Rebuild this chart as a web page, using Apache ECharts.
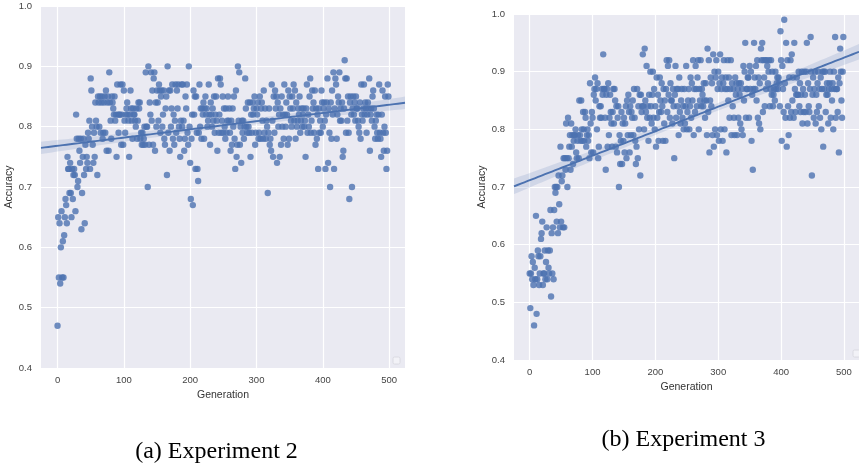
<!DOCTYPE html>
<html>
<head>
<meta charset="utf-8">
<script src="https://cdn.jsdelivr.net/npm/echarts@6/dist/echarts.min.js"></script>
<style>
  html, body { margin: 0; background: #fff; }
  #chart { width: 859px; height: 468px; }
</style>
</head>
<body>
<div id="chart"></div>
<script>
// accuracy (in %) per generation, index = generation
const exp2Acc = [
  47,65,55,64,54,60,66,55,61,55,62,65,68,67,64,75,73,73,69,74,
  69,65,73,68,72,73,72,66,82,78,70,71,78,76,74,78,63,69,75,78,
  72,64,77,73,75,74,79,78,81,73,88,86,80,77,74,79,75,84,81,80,
  72,85,84,80,85,79,84,85,78,79,84,85,79,86,76,84,85,76,89,84,
  81,78,85,84,83,82,85,81,82,75,87,82,79,82,82,87,77,82,87,77,
  86,81,79,82,83,84,82,81,75,82,86,83,81,78,83,82,82,81,80,83,
  78,81,84,83,84,78,79,77,79,77,78,80,77,89,80,80,70,90,77,84,
  82,89,81,86,77,88,89,76,84,80,86,84,81,87,86,79,85,86,80,82,
  86,78,77,83,85,72,90,79,86,76,86,80,83,87,78,82,77,81,87,79,
  86,83,87,80,78,75,81,87,80,87,81,76,78,85,83,87,79,77,90,80,
  74,68,78,82,67,86,82,85,73,85,79,73,71,79,87,80,83,78,83,82,
  84,78,83,85,82,83,80,81,87,82,77,84,82,80,83,81,85,79,82,85,
  81,76,88,79,82,88,87,79,81,85,79,83,80,78,83,79,81,85,81,83,
  79,76,81,77,83,80,85,78,73,86,75,77,90,81,89,77,80,74,81,79,
  81,78,80,88,83,80,79,84,80,79,84,75,82,79,84,82,83,85,77,79,
  83,82,84,78,79,85,78,83,84,81,78,86,79,83,78,81,80,69,79,83,
  77,78,76,87,81,75,85,79,86,83,85,74,84,80,82,75,83,77,85,80,
  82,78,87,82,80,84,82,77,86,78,85,83,81,80,85,83,87,81,86,78,
  84,80,81,83,82,85,79,81,83,80,82,83,80,81,75,83,87,79,82,80,
  85,88,79,81,86,83,84,79,86,77,83,78,82,73,83,79,81,79,86,84,
  80,83,84,81,73,82,84,88,74,83,79,70,84,78,86,82,89,73,83,88,
  87,78,82,85,84,89,81,83,81,84,75,76,83,91,88,79,88,81,85,79,
  68,84,85,82,70,83,85,82,84,81,85,83,83,81,80,79,84,78,87,82,
  81,83,87,82,84,83,79,82,84,83,88,76,82,83,81,85,86,83,80,78,
  81,82,79,78,82,87,79,78,75,82,86,79,76,80,85,79,73,76,87,85
];
const exp3Acc = [
  55,49,55,58,54,57,53,46,56,54,65,48,54,59,58,53,55,58,61,62,
  64,53,55,55,59,54,57,63,54,59,56,55,59,66,51,62,55,63,54,66,
  70,69,70,64,70,62,72,67,63,77,64,71,72,63,75,63,75,73,81,75,
  70,82,75,77,79,73,81,77,79,74,78,79,79,80,76,75,78,79,75,85,
  79,78,85,80,78,83,80,78,83,82,77,79,80,78,79,75,88,81,76,83,
  82,76,86,87,89,85,87,80,88,75,77,84,82,84,82,87,86,93,87,87,
  82,73,86,87,77,88,79,82,86,83,81,77,83,87,81,87,85,77,84,76,
  82,84,70,79,74,78,83,74,81,78,82,76,81,84,75,85,79,86,83,76,
  84,79,83,82,85,79,87,82,78,74,77,87,75,84,80,86,72,86,83,84,
  93,84,80,94,85,83,91,82,84,78,86,82,90,84,81,86,90,82,87,80,
  84,77,89,82,86,78,83,89,85,83,88,84,78,87,81,85,78,87,92,83,
  91,86,92,82,88,85,85,81,87,84,75,86,91,82,87,84,87,79,89,83,
  81,85,87,82,84,80,87,81,84,91,80,83,85,87,80,84,89,82,88,85,
  92,79,87,83,91,87,84,89,92,80,87,85,92,84,87,86,84,88,85,82,
  88,85,79,94,83,92,76,85,89,84,88,79,93,77,90,80,89,92,79,87,
  90,78,88,93,80,87,89,78,88,92,80,87,89,76,87,92,85,89,82,87,
  92,79,88,84,87,82,79,89,86,88,79,87,82,88,86,81,88,80,87,79,
  91,85,90,95,82,87,87,89,89,82,91,87,90,78,86,73,87,95,89,87,
  91,85,92,82,89,81,88,80,94,92,95,83,92,89,84,92,87,92,91,88,
  90,92,84,87,92,86,90,84,86,87,85,90,87,88,89,87,89,88,84,97,
  92,78,91,87,83,99,88,82,95,77,92,84,79,89,82,92,83,93,85,89,
  82,95,87,83,86,89,86,86,90,84,88,83,86,90,81,87,83,90,86,83,
  90,95,81,88,84,83,87,96,90,72,86,89,82,87,90,81,86,83,88,90,
  84,87,82,89,80,87,90,77,90,87,90,83,86,88,86,81,87,88,90,82,
  87,85,88,80,90,87,96,82,87,87,83,89,76,88,94,90,85,82,90,96
];
const xTicks = [0, 100, 200, 300, 400, 500];
const captions = ['(a) Experiment 2', '(b) Experiment 3'];

const BLUE = '#4C72B0';
const FONT = 'Liberation Sans';
const X_MIN = -24.95, X_MAX = 523.95;

function toPoints(acc) {
  return acc.map((v, i) => [i, v / 100]);
}

// least squares line + 95% confidence band, like seaborn regplot
function regression(points) {
  const n = points.length;
  let sx = 0, sy = 0;
  points.forEach(([x, y]) => { sx += x; sy += y; });
  const mx = sx / n, my = sy / n;
  let sxx = 0, sxy = 0;
  points.forEach(([x, y]) => { sxx += (x - mx) ** 2; sxy += (x - mx) * (y - my); });
  const b = sxy / sxx, a = my - b * mx;
  let sse = 0;
  points.forEach(([x, y]) => { sse += (y - a - b * x) ** 2; });
  const s = Math.sqrt(sse / (n - 2));
  const line = [], upper = [], lower = [];
  for (let k = 0; k <= 100; k++) {
    const x = X_MIN + (X_MAX - X_MIN) * k / 100;
    const y = a + b * x;
    const ci = 1.96 * s * Math.sqrt(1 / n + (x - mx) ** 2 / sxx);
    line.push([x, y]);
    upper.push([x, y + ci]);
    lower.push([x, y - ci]);
  }
  return { line, upper, lower };
}

const panels = [toPoints(exp2Acc), toPoints(exp3Acc)];
const fits = panels.map(regression);

const grids = [
  { left: 41, top: 6, width: 364, height: 362 },
  { left: 514, top: 14, width: 350, height: 346 }
];

const option = {
  animation: false,
  grid: grids.map(g => Object.assign({
    show: true, backgroundColor: '#EAEAF2', borderWidth: 0, containLabel: false
  }, g)),
  xAxis: grids.map((g, i) => ({
    type: 'value', gridIndex: i, min: X_MIN, max: X_MAX,
    name: 'Generation', nameLocation: 'middle', nameGap: i ? 13 : 14,
    nameTextStyle: { fontFamily: FONT, fontSize: 10.5, color: '#333' },
    axisLine: { show: false },
    axisTick: { show: false, customValues: xTicks },
    axisLabel: { customValues: xTicks, margin: 7, fontFamily: FONT, fontSize: 9.5, color: '#444' },
    splitLine: { show: true, lineStyle: { color: '#fff', width: 1.2 } }
  })),
  yAxis: grids.map((g, i) => ({
    type: 'value', gridIndex: i, min: 0.4, max: 1.0, interval: 0.1,
    name: 'Accuracy', nameLocation: 'middle', nameGap: i ? 16 : 20,
    nameTextStyle: { fontFamily: FONT, fontSize: 10.5, color: '#333' },
    axisLine: { show: false },
    axisTick: { show: false },
    axisLabel: { margin: 9, fontFamily: FONT, fontSize: 9.5, color: '#444',
      formatter: v => v.toFixed(1) },
    splitLine: { show: true, lineStyle: { color: '#fff', width: 1.2 } }
  })),
  series: [],
  graphic: []
};

panels.forEach((pts, i) => {
  const f = fits[i];
  option.series.push({
    type: 'scatter', xAxisIndex: i, yAxisIndex: i, data: pts,
    symbolSize: 6.4,
    itemStyle: { color: BLUE, opacity: 0.8 }
  });
  option.series.push({
    type: 'custom', xAxisIndex: i, yAxisIndex: i, data: [[0, 0.8]],
    silent: true, z: 3,
    renderItem: (params, api) => {
      const ptsUp = f.upper.map(p => api.coord(p));
      const ptsLo = f.lower.slice().reverse().map(p => api.coord(p));
      return {
        type: 'polygon',
        shape: { points: ptsUp.concat(ptsLo) },
        style: { fill: 'rgba(76,114,176,0.16)' }
      };
    }
  });
  option.series.push({
    type: 'line', xAxisIndex: i, yAxisIndex: i, data: f.line,
    showSymbol: false, z: 4,
    lineStyle: { color: BLUE, width: 1.9 }
  });
});

// empty legend boxes in the bottom right corners
[[393, 357], [853, 350]].forEach(([x, y]) => {
  option.graphic.push({
    type: 'rect', shape: { x, y, width: 7, height: 7, r: 1.5 },
    style: { fill: '#F2F2F7', stroke: '#D5D5DD', lineWidth: 0.8 }
  });
});

[[216.5, 452], [683.5, 440]].forEach(([x, y], i) => {
  option.graphic.push({
    type: 'text', x, y,
    style: { text: captions[i], font: '24px "Liberation Serif"', fill: '#000',
      align: 'center', verticalAlign: 'middle' }
  });
});

const chart = echarts.init(document.getElementById('chart'));
chart.setOption(option);
</script>
</body>
</html>
